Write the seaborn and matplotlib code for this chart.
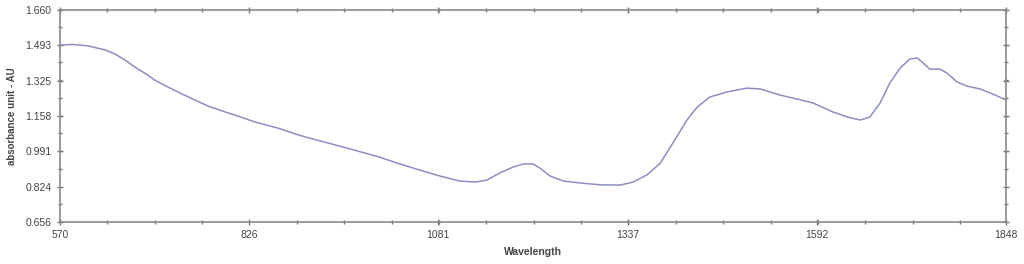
import matplotlib
matplotlib.use("Agg")
import matplotlib.pyplot as plt
import seaborn as sns
import pandas as pd
from matplotlib.ticker import AutoMinorLocator

wavelength = [570, 573, 586, 608, 631, 644, 658, 671, 685, 698, 716, 735, 752, 770,
              789, 810, 833, 865, 894, 930, 962, 1000, 1029, 1056, 1083, 1110, 1131,
              1147, 1164, 1182, 1196, 1209, 1218, 1232, 1250, 1272, 1300, 1327, 1344,
              1363, 1381, 1398, 1417, 1431, 1448, 1471, 1498, 1516, 1543, 1566, 1587,
              1614, 1637, 1651, 1664, 1678, 1691, 1705, 1718, 1728, 1736, 1745, 1759,
              1768, 1782, 1795, 1813, 1830, 1848]
absorbance = [1.492, 1.494, 1.497, 1.490, 1.471, 1.452, 1.423, 1.390, 1.360, 1.328,
              1.295, 1.262, 1.234, 1.205, 1.182, 1.158, 1.130, 1.100, 1.066, 1.032,
              1.002, 0.965, 0.931, 0.902, 0.874, 0.850, 0.845, 0.855, 0.888, 0.916,
              0.931, 0.931, 0.912, 0.874, 0.850, 0.841, 0.832, 0.831, 0.845, 0.879,
              0.935, 1.030, 1.139, 1.201, 1.248, 1.272, 1.290, 1.286, 1.257, 1.238,
              1.220, 1.177, 1.150, 1.139, 1.153, 1.220, 1.314, 1.385, 1.428, 1.433,
              1.409, 1.380, 1.380, 1.362, 1.319, 1.300, 1.286, 1.262, 1.234]

x_ticks = [570, 826, 1081, 1337, 1592, 1848]
y_ticks = [0.656, 0.824, 0.991, 1.158, 1.325, 1.493, 1.660]

df = pd.DataFrame({"Wavelength": wavelength, "Absorbance": absorbance})

sns.set_style("white")
plt.rcParams['font.family'] = ['Liberation Sans', 'DejaVu Sans']

fig = plt.figure(figsize=(10.24, 2.64), dpi=100)
ax = fig.add_axes([60/1024, 42/264, 946/1024, 212/264])

sns.lineplot(data=df, x="Wavelength", y="Absorbance", ax=ax,
             color="#8c8ec4", linewidth=1.1)

ax.set_xlim(570, 1848)
ax.set_ylim(0.656, 1.660)
ax.set_xticks(x_ticks)
ax.set_xticklabels([str(t) for t in x_ticks])
ax.set_yticks(y_ticks)
ax.set_yticklabels([f"{t:.3f}" for t in y_ticks])
ax.xaxis.set_minor_locator(AutoMinorLocator(4))
ax.yaxis.set_minor_locator(AutoMinorLocator(2))

for s in ax.spines.values():
    s.set_color("#8a8a8a")
    s.set_linewidth(1.2)
ax.tick_params(axis="both", which="both", direction="inout", colors="#777777",
               labelcolor="#444444", labelsize=7.5, top=True, right=True,
               bottom=True, left=True, labeltop=False, labelright=False)
ax.tick_params(which="major", length=5, width=1)
ax.tick_params(which="minor", length=3, width=1)

ax.set_xlabel("Wavelength", fontsize=7.5, fontweight="bold", color="#444444", labelpad=5)
ax.set_ylabel("absorbance unit - AU", fontsize=7, fontweight="bold", color="#444444", labelpad=6)

fig.savefig("out.png", dpi=100, facecolor="white")
